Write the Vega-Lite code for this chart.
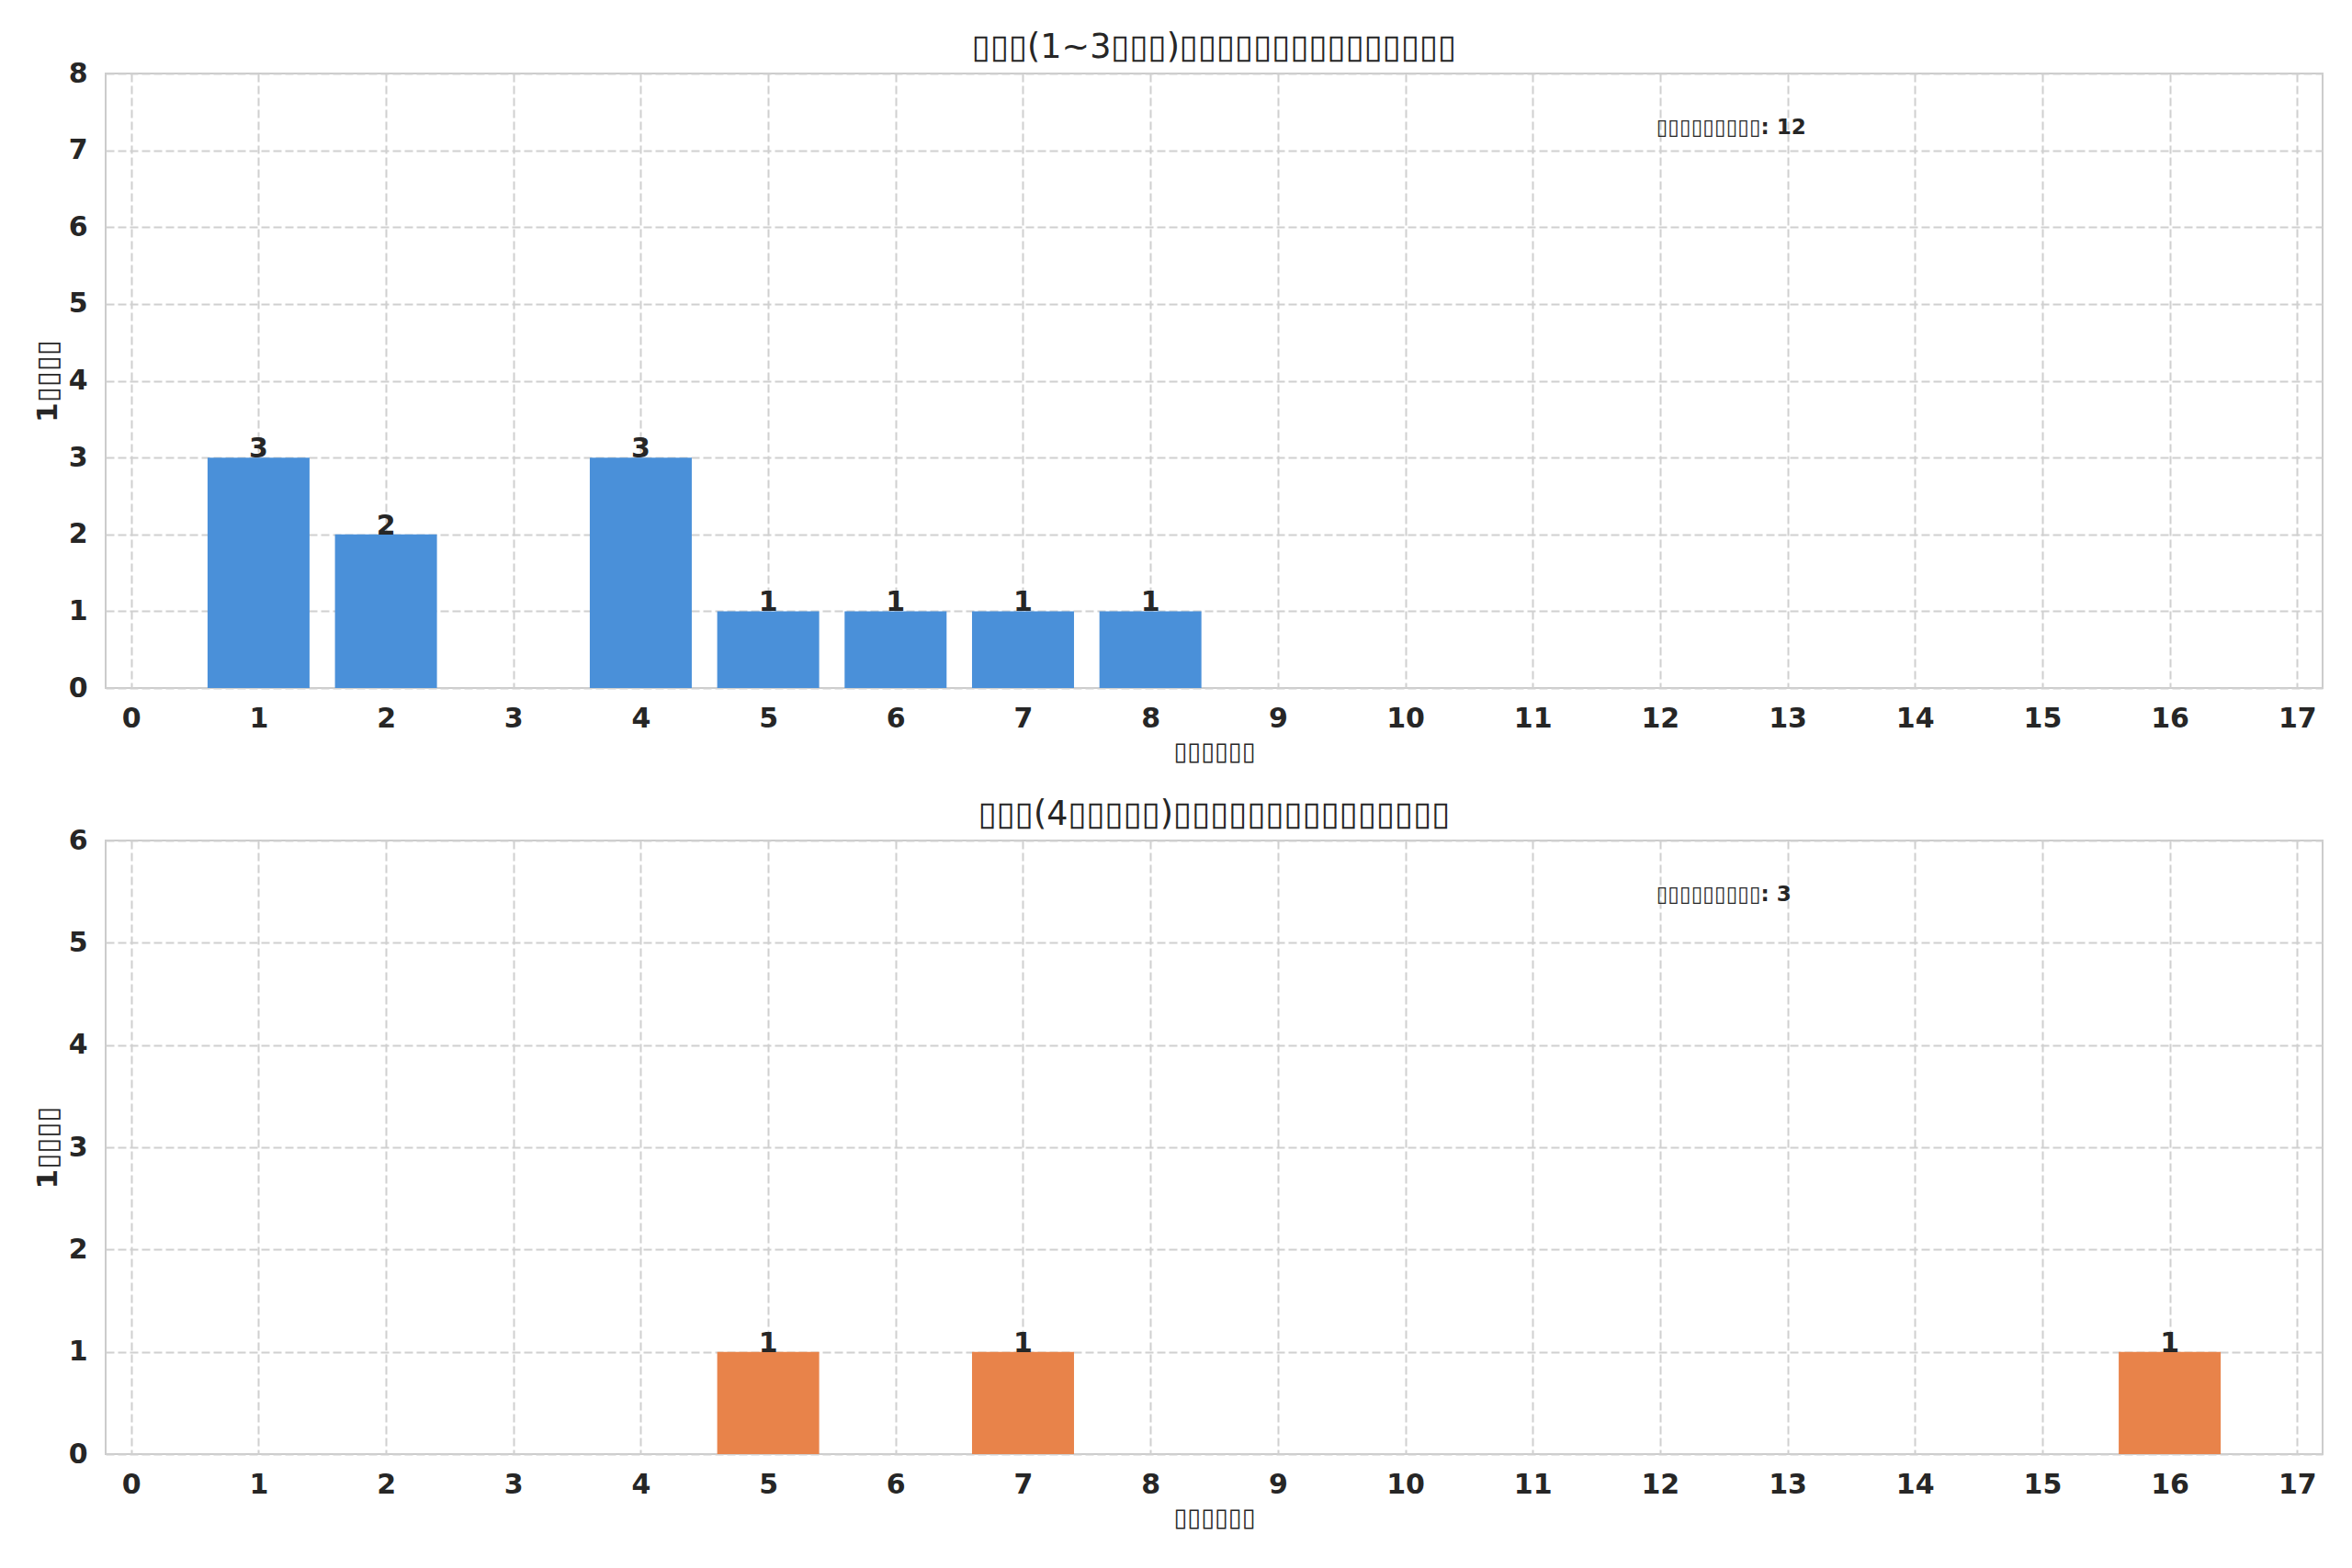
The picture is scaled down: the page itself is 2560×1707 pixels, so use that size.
{
  "$schema": "https://vega.github.io/schema/vega-lite/v6.json",
  "background": "white",
  "padding": {"left": 35, "top": 32, "right": 31, "bottom": 20},
  "spacing": 35,
  "config": {
    "font": "DejaVu Sans",
    "view": {"stroke": "#cccccc", "strokeWidth": 2},
    "axis": {
      "domain": false,
      "ticks": false,
      "grid": true,
      "gridColor": "#d0d0d0",
      "gridDash": [9, 4],
      "gridWidth": 2,
      "format": "d",
      "labelFont": "DejaVu Sans",
      "labelFontSize": 30,
      "labelFontWeight": "bold",
      "labelColor": "#262626",
      "titleFont": "DejaVu Sans",
      "titleFontSize": 27,
      "titleFontWeight": "bold",
      "titleColor": "#262626"
    },
    "axisY": {"titleFontSize": 31},
    "title": {"font": "DejaVu Sans", "fontSize": 36.5, "fontWeight": "normal", "color": "#262626", "offset": -5}
  },
  "vconcat": [
    {
      "width": 2413,
      "height": 669,
      "title": "▯▯▯(1~3▯▯▯)▯▯▯▯▯▯▯▯▯▯▯▯▯▯▯",
      "layer": [
        {
          "data": {"values": [
            {"x": 1, "count": 3}, {"x": 2, "count": 2}, {"x": 4, "count": 3},
            {"x": 5, "count": 1}, {"x": 6, "count": 1}, {"x": 7, "count": 1}, {"x": 8, "count": 1}
          ]},
          "layer": [
            {
              "mark": {"type": "bar", "size": 111, "color": "#4a90d9"},
              "encoding": {
                "x": {"field": "x", "type": "quantitative", "scale": {"domain": [-0.2, 17.2], "nice": false, "zero": false, "padding": 0},
                  "axis": {"values": [0,1,2,3,4,5,6,7,8,9,10,11,12,13,14,15,16,17], "format": "d", "title": "▯▯▯▯▯▯", "labelPadding": 18, "titlePadding": 8, "labelFlush": false, "labelOverlap": false}},
                "y": {"field": "count", "type": "quantitative", "scale": {"domain": [0, 8], "nice": false},
                  "axis": {"values": [0,1,2,3,4,5,6,7,8], "format": "d", "title": "1▯▯▯▯", "labelPadding": 20, "titlePadding": 6}}
              }
            },
            {
              "mark": {"type": "text", "baseline": "alphabetic", "align": "center", "fontSize": 30, "fontWeight": "bold", "color": "#262626"},
              "encoding": {
                "x": {"field": "x", "type": "quantitative"},
                "y": {"field": "count", "type": "quantitative"},
                "text": {"field": "count", "type": "quantitative", "format": "d"}
              }
            }
          ]
        },
        {
          "data": {"values": [{"ax": 11.97, "ay": 7.29, "label": "▯▯▯▯▯▯▯▯▯: 12"}]},
          "mark": {"type": "text", "align": "left", "baseline": "middle", "fontSize": 23, "fontWeight": "bold", "color": "#262626"},
          "encoding": {
            "x": {"field": "ax", "type": "quantitative"},
            "y": {"field": "ay", "type": "quantitative"},
            "text": {"field": "label", "type": "nominal"}
          }
        }
      ]
    },
    {
      "width": 2413,
      "height": 668,
      "title": "▯▯▯(4▯▯▯▯▯)▯▯▯▯▯▯▯▯▯▯▯▯▯▯▯",
      "layer": [
        {
          "data": {"values": [
            {"x": 5, "count": 1}, {"x": 7, "count": 1}, {"x": 16, "count": 1}
          ]},
          "layer": [
            {
              "mark": {"type": "bar", "size": 111, "color": "#e8834a"},
              "encoding": {
                "x": {"field": "x", "type": "quantitative", "scale": {"domain": [-0.2, 17.2], "nice": false, "zero": false, "padding": 0},
                  "axis": {"values": [0,1,2,3,4,5,6,7,8,9,10,11,12,13,14,15,16,17], "format": "d", "title": "▯▯▯▯▯▯", "labelPadding": 18, "titlePadding": 8, "labelFlush": false, "labelOverlap": false}},
                "y": {"field": "count", "type": "quantitative", "scale": {"domain": [0, 6], "nice": false},
                  "axis": {"values": [0,1,2,3,4,5,6], "format": "d", "title": "1▯▯▯▯", "labelPadding": 20, "titlePadding": 6}}
              }
            },
            {
              "mark": {"type": "text", "baseline": "alphabetic", "align": "center", "fontSize": 30, "fontWeight": "bold", "color": "#262626"},
              "encoding": {
                "x": {"field": "x", "type": "quantitative"},
                "y": {"field": "count", "type": "quantitative"},
                "text": {"field": "count", "type": "quantitative", "format": "d"}
              }
            }
          ]
        },
        {
          "data": {"values": [{"ax": 11.97, "ay": 5.47, "label": "▯▯▯▯▯▯▯▯▯: 3"}]},
          "mark": {"type": "text", "align": "left", "baseline": "middle", "fontSize": 23, "fontWeight": "bold", "color": "#262626"},
          "encoding": {
            "x": {"field": "ax", "type": "quantitative"},
            "y": {"field": "ay", "type": "quantitative"},
            "text": {"field": "label", "type": "nominal"}
          }
        }
      ]
    }
  ]
}
